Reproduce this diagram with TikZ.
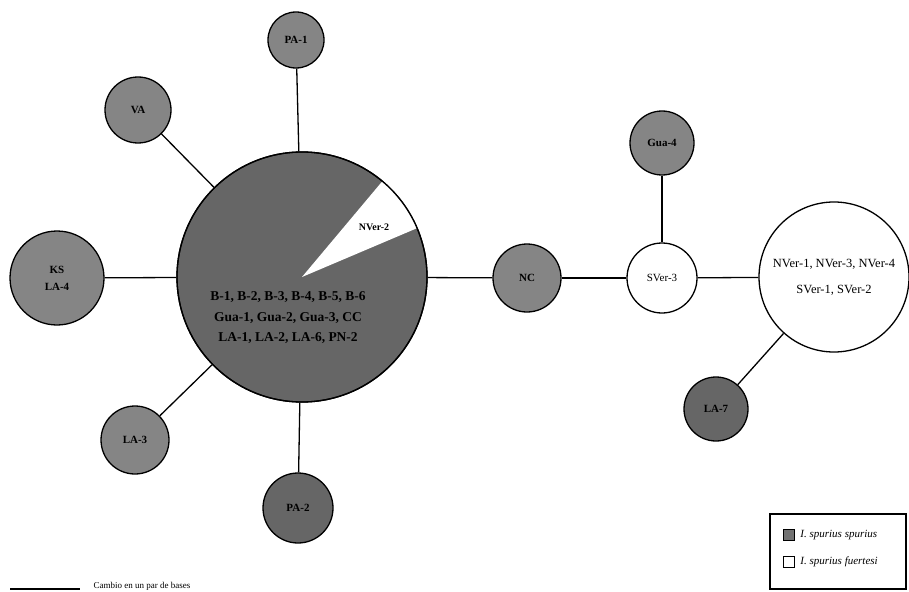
\documentclass[tikz,border=0pt]{standalone}
\usepackage{fontspec}
\setmainfont{Liberation Serif}
\begin{document}
\begin{tikzpicture}[x=1pt,y=-1pt,
  hap/.style={circle,draw=black,line width=1.3pt,inner sep=0pt,align=center,font=\fontsize{11}{13}\selectfont},
  grayhap/.style={hap,fill=black!48},
  darkhap/.style={hap,fill=black!60},
  whitehap/.style={hap,fill=white},
  link/.style={line width=1.3pt}]
\useasboundingbox (0,0) rectangle (909,591);
% nodes
\node[hap,fill=black!60,minimum size=250pt] (big) at (302,277) {};
\fill[white] (big.center) -- ++(23:125pt) arc[start angle=23,end angle=50,radius=125pt] -- cycle;
\draw[line width=1.3pt] (big.center) circle[radius=125pt];
\node[font=\fontsize{10}{11}\selectfont\bfseries] (nv2) at (374,227) {NVer-2};
\node[font=\fontsize{13.5}{20.5}\selectfont\bfseries,align=center,text=black] (bigtxt) at (288,318)
  {B-1, B-2, B-3, B-4, B-5, B-6\\Gua-1, Gua-2, Gua-3, CC\\LA-1, LA-2, LA-6, PN-2};
\node[grayhap,minimum size=56pt] (pa1) at (296,40) {\textbf{PA-1}};
\node[grayhap,minimum size=66pt] (va) at (138,110) {\textbf{VA}};
\node[grayhap,minimum size=94pt] (ks) at (57,278) {\textbf{KS}\\[4pt]\textbf{LA-4}};
\node[grayhap,minimum size=68pt] (la3) at (135,440) {\textbf{LA-3}};
\node[darkhap,minimum size=70pt] (pa2) at (298,508) {\textbf{PA-2}};
\node[grayhap,minimum size=68pt] (nc) at (527,278) {\textbf{NC}};
\node[whitehap,minimum size=70pt] (sv3) at (662,278) {SVer-3};
\node[grayhap,minimum size=64pt] (gua4) at (662,143) {\textbf{Gua-4}};
\node[whitehap,minimum size=150pt,font=\fontsize{12.5}{14}\selectfont] (white) at (834,277) {NVer-1, NVer-3, NVer-4\\[12pt]SVer-1, SVer-2};
\node[darkhap,minimum size=64pt] (la7) at (716,409) {\textbf{LA-7}};
% connectors
\draw[link] (pa1) -- (big);
\draw[link] (va) -- (big);
\draw[link] (ks) -- (big);
\draw[link] (la3) -- (big);
\draw[link] (pa2) -- (big);
\draw[link] (big) -- (nc);
\draw[link] (nc) -- (sv3);
\draw[link] (gua4) -- (sv3);
\draw[link] (sv3) -- (white);
\draw[link] (la7) -- (white);
% legend
\node[draw=black,line width=1.3pt,minimum width=136pt,minimum height=75pt] (legend) at (838,551.5) {};
\node[draw=black,line width=1.2pt,fill=black!55,minimum size=11pt,inner sep=0pt] (sqg) at (789,535) {};
\node[draw=black,line width=1.2pt,fill=white,minimum size=11pt,inner sep=0pt] (sqw) at (789,562) {};
\node[anchor=west,font=\fontsize{11}{12}\selectfont\itshape] (lg1) at (sqg.east) {\,I. spurius spurius};
\node[anchor=west,font=\fontsize{11}{12}\selectfont\itshape] (lg2) at (sqw.east) {\,I. spurius fuertesi};
% scale
\coordinate (s1) at (10,589);
\coordinate (s2) at (80,589);
\draw[line width=1.3pt] (s1) -- (s2);
\node[anchor=base west,font=\fontsize{9}{10}\selectfont] (scale) at (90,588) {Cambio en un par de bases};
\end{tikzpicture}
\end{document}
